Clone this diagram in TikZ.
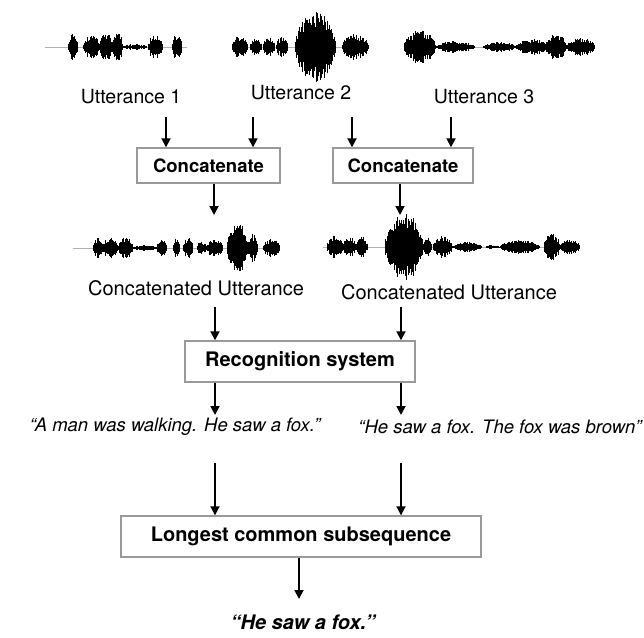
\documentclass[tikz,border=0pt]{standalone}
\usepackage{fontspec}
\setmainfont{TeX Gyre Heros}
\usetikzlibrary{arrows.meta}
\newcommand{\fsz}[1]{\fontsize{#1}{#1}\selectfont}
% waveform: centre y, baseline start, baseline end, bursts start/end/amplitude
\newcommand{\waveform}[4]{%
  \draw[waveline] (#2,#1) -- (#3,#1);
  \foreach \ws/\we/\wa in {#4}{%
    \pgfmathsetmacro{\wnext}{\ws+0.7}
    \foreach \x in {\ws,\wnext,...,\we}{%
      \pgfmathsetmacro{\h}{\wa*sqrt(max(sin(180*(\x-\ws)/(\we-\ws)),0))*(0.5+0.5*rnd)}
      \draw[spike] (\x,#1-\h) -- (\x,#1+\h);
    }
  }
}

\begin{document}
\begin{tikzpicture}[x=1pt, y=-1pt,
  label/.style={inner sep=0pt, font=\fsz{19.5}},
  quote/.style={inner sep=0pt, font=\fsz{18.5}\itshape},
  box/.style={draw=black!40, line width=1.4pt, fill=white, inner sep=0pt,
              font=\bfseries\fsz{20}},
  arrow/.style={-{Triangle[length=9pt,width=9pt]}, line width=1.8pt},
  waveline/.style={draw=black!30, line width=1pt},
  spike/.style={line width=1pt}
]
  \useasboundingbox (0,0) rectangle (644,637);
  \pgfmathsetseed{7}

  % input utterances
  \waveform{47}{45}{187}{68/78/13, 83/100/12, 100/112/15, 112/123/14, 123/147/3,
    148/163/12, 172/182/13}
  \waveform{47}{232}{369}{232/248/12, 250/262/9, 263/275/10, 276/288/10,
    295/336/36, 342/369/13}
  \waveform{47}{404}{595}{404/436/17, 436/475/6, 483/516/5, 516/550/8,
    547/566/15, 566/595/9}

  \node[label] (utt1) at (131,97) {Utterance 1};
  \node[label] (utt2) at (301,93) {Utterance 2};
  \node[label] (utt3) at (484,97) {Utterance 3};

  \node[box, minimum width=143pt, minimum height=35pt, font=\bfseries\fsz{18.5}]
    (concat1) at (208.5,165.5) {Concatenate};
  \node[box, minimum width=140pt, minimum height=35pt, font=\bfseries\fsz{18.5}]
    (concat2) at (403,165.5) {Concatenate};

  % concatenated utterances
  \waveform{248}{73}{280}{93/103/10, 103/118/11, 118/133/11, 133/157/3, 157/167/8,
    173/180/10, 183/193/10, 197/207/7, 207/223/9, 227/248/26, 248/258/15, 263/280/9}
  \waveform{247}{323}{580}{327/343/12, 343/356/10, 356/368/10, 385/423/34, 423/432/10,
    433/453/11, 453/482/5, 486/500/2, 500/540/7, 544/560/14, 560/580/8}

  \node[label, font=\fsz{20}] (cat1) at (196,288) {Concatenated Utterance};
  \node[label, font=\fsz{20}] (cat2) at (449,292) {Concatenated Utterance};

  \node[box, minimum width=230pt, minimum height=41pt] (recog) at (300,361.5) {Recognition system};

  \node[quote] (hyp1) at (175,427) {“A man was walking. He saw a fox.”};
  \node[quote] (hyp2) at (500,427) {“He saw a fox. The fox was brown”};

  \node[box, minimum width=360pt, minimum height=41pt] (lcs) at (301,536.5) {Longest common subsequence};
  \node[inner sep=0pt, font=\bfseries\itshape\fsz{20}] (result) at (303,622) {“He saw a fox.”};

  \coordinate (s1) at (166,117);
  \coordinate (s2) at (253,117);
  \coordinate (s3) at (352,117);
  \coordinate (s4) at (451,117);
  \coordinate (w4) at (214,215);
  \coordinate (w5) at (400,215);
  \coordinate (s5) at (215,307);
  \coordinate (s6) at (401,307);
  \coordinate (t1) at (215,415);
  \coordinate (t2) at (401,415);
  \coordinate (s7) at (215,463);
  \coordinate (s8) at (401,463);
  \coordinate (t3) at (299,599);

  \draw[arrow] (s1) -- (s1 |- concat1.north);
  \draw[arrow] (s2) -- (s2 |- concat1.north);
  \draw[arrow] (s3) -- (s3 |- concat2.north);
  \draw[arrow] (s4) -- (s4 |- concat2.north);
  \draw[arrow] (w4 |- concat1.south) -- (w4);
  \draw[arrow] (w5 |- concat2.south) -- (w5);
  \draw[arrow] (s5) -- (s5 |- recog.north);
  \draw[arrow] (s6) -- (s6 |- recog.north);
  \draw[arrow] (t1 |- recog.south) -- (t1);
  \draw[arrow] (t2 |- recog.south) -- (t2);
  \draw[arrow] (s7) -- (s7 |- lcs.north);
  \draw[arrow] (s8) -- (s8 |- lcs.north);
  \draw[arrow] (t3 |- lcs.south) -- (t3);
\end{tikzpicture}
\end{document}
